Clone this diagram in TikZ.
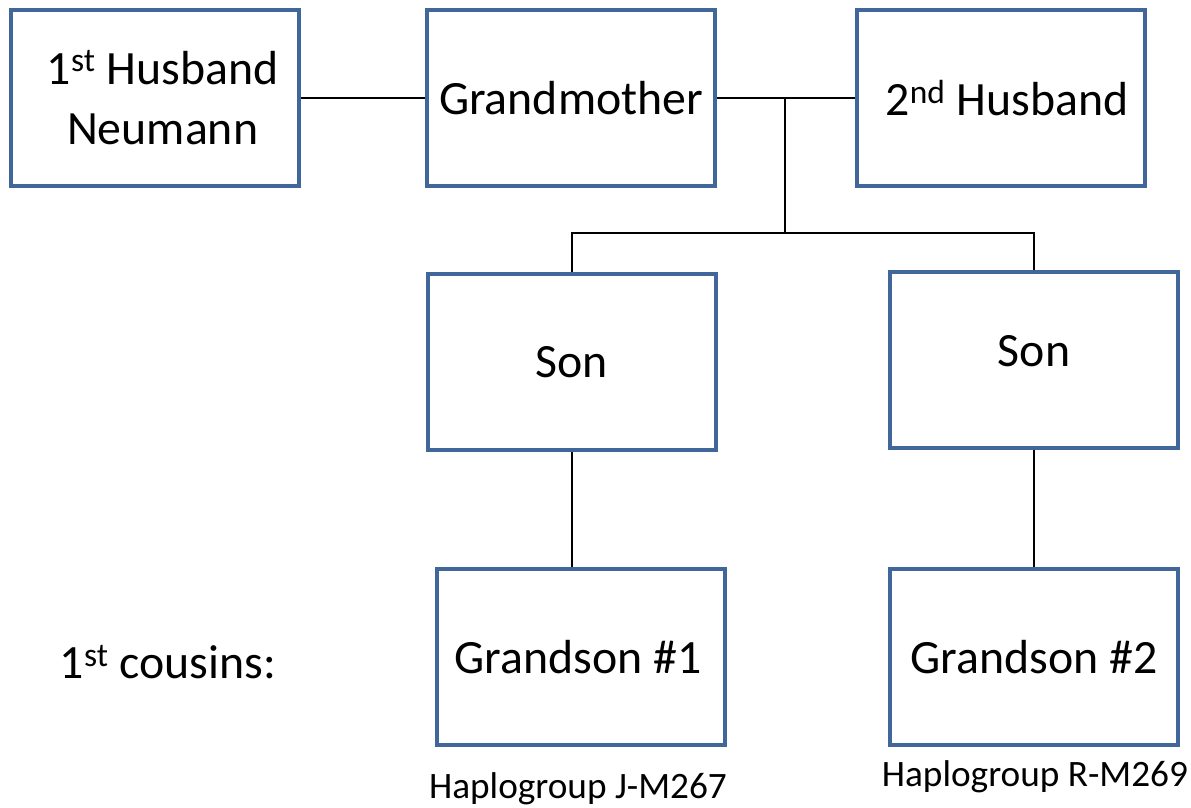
\documentclass[tikz,border=0pt]{standalone}
\usepackage{fontspec}
\setmainfont{Carlito}
\usepackage{xcolor}
\usetikzlibrary{positioning,calc}
\definecolor{boxblue}{HTML}{41669A}

\begin{document}
\begin{tikzpicture}[x=0.025cm, y=-0.025cm,
	person/.style={rectangle, draw=boxblue, line width=2.8pt, minimum width=7.2cm, minimum height=4.4cm, inner sep=0pt, align=center, font=\fontsize{34}{43}\selectfont},
	small/.style={inner sep=0pt, font=\fontsize{26.5}{30}\selectfont}]
						\useasboundingbox (0,0) rectangle (1191,808);
						\node[person] (h1) at (155,98) {\hspace*{0.38cm}1\textsuperscript{st} Husband\\\hspace*{0.38cm}Neumann};
						\node[person] (gm) at (571,98) {Grandmother};
						\node[person] (h2) at (1001,98) {\hspace*{0.3cm}2\textsuperscript{nd} Husband};
						\node[person] (s1) at (572,362) {Son};
						\node[person] (s2) at (1034,360) {\raisebox{0.45cm}{Son}};
						\node[person] (g1) at (581,657) {Grandson \#1\hspace*{0.15cm}};
						\node[person] (g2) at (1034,657) {Grandson \#2};
						\node[font=\fontsize{34}{40}\selectfont, inner sep=0pt] (cz) at (168,662) {1\textsuperscript{st} cousins:};
						\node[small] (hj) at (578,789) {Haplogroup J-M267};
						\node[small] (hr) at (1035,777) {Haplogroup R-M269};
						\coordinate (m) at (785,98);
						\coordinate (b) at (785,233);
						\begin{scope}[line width=1.1pt]
						\draw (h1) -- (gm);
						\draw (gm) -- (h2);
						\draw (m) -- (b);
						\draw (b) -| (s1);
						\draw (b) -| (s2);
						\draw (s1) -- (s1 |- g1.north);
						\draw (s2) -- (g2);
						\end{scope}
					\end{tikzpicture}
\end{document}
